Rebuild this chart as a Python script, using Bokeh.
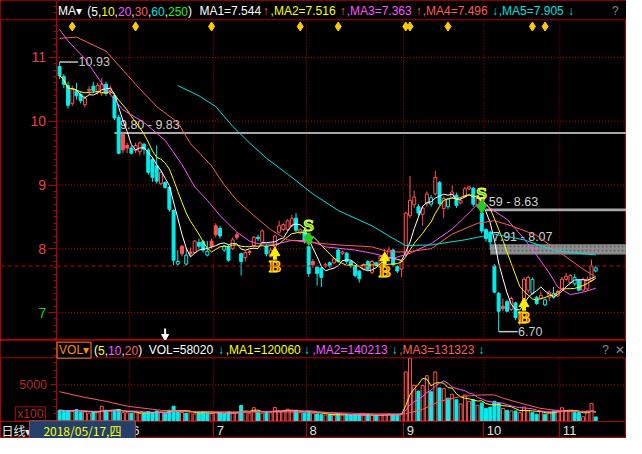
import numpy as np
import pandas as pd
from bokeh.plotting import figure
from bokeh.layouts import column
from bokeh.models import (ColumnDataSource, FixedTicker, Span, Label, LinearAxis,
                          BoxAnnotation, Grid, Range1d)
from bokeh.core.properties import value
from bokeh.embed import file_html
from bokeh.resources import INLINE

# ------------------------------------------------------------------ data
opens = [10.86, 10.70, 10.56, 10.28, 10.48, 10.42, 10.26, 10.48, 10.55, 10.46,
         10.44, 10.58, 10.48, 10.40, 10.06, 9.80, 9.62, 9.58, 9.54, 9.52,
         9.64, 9.55, 9.40, 9.30, 9.02, 9.04, 8.96, 8.60, 7.76, 8.04,
         7.76, 7.95, 7.94, 8.10, 8.11, 7.90, 8.12, 8.36, 8.32, 7.98,
         8.03, 8.00, 8.22, 7.92, 7.86, 7.96, 8.04, 8.18, 8.10, 8.04,
         7.88, 8.03, 8.26, 8.30, 8.30, 8.36, 8.48, 8.25, 8.29, 8.03,
         7.80, 7.71, 7.70, 7.73, 7.78, 7.78, 7.98, 7.93, 7.93, 7.80,
         7.73, 7.65, 7.68, 7.80, 7.63, 7.78, 7.73, 7.86, 7.85, 7.98,
         7.72, 7.68, 7.91, 8.52, 8.69, 8.66, 8.54, 8.71, 8.70, 8.86,
         9.04, 8.63, 8.66, 8.80, 8.84, 8.72, 8.82, 8.94, 8.95, 8.67,
         8.56, 8.30, 8.26, 7.73, 7.30, 7.10, 7.17, 7.05, 7.15, 6.88,
         7.08, 7.35, 7.30, 7.24, 7.22, 7.12, 7.24, 7.24, 7.26, 7.37,
         7.52, 7.47, 7.45, 7.50, 7.35, 7.37, 7.50, 7.65]
highs = [10.93, 10.74, 10.62, 10.56, 10.60, 10.47, 10.40, 10.55, 10.62, 10.60,
         10.68, 10.62, 10.56, 10.42, 10.10, 9.84, 9.66, 9.62, 9.66, 9.68,
         9.66, 9.58, 9.44, 9.62, 9.24, 9.06, 8.98, 8.62, 7.98, 8.06,
         8.00, 8.02, 8.14, 8.16, 8.14, 8.12, 8.16, 8.40, 8.36, 8.06,
         8.06, 8.18, 8.26, 7.94, 7.96, 7.98, 8.20, 8.22, 8.30, 8.07,
         8.02, 8.22, 8.44, 8.40, 8.46, 8.53, 8.56, 8.32, 8.30, 8.05,
         7.84, 7.73, 7.72, 7.78, 7.80, 7.86, 8.00, 7.97, 7.95, 7.82,
         7.75, 7.66, 7.77, 7.82, 7.82, 7.80, 7.90, 8.00, 8.03, 8.00,
         7.74, 7.82, 8.58, 9.14, 8.91, 8.70, 8.68, 8.90, 8.84, 9.22,
         9.06, 8.82, 8.80, 8.99, 8.88, 8.80, 8.97, 8.99, 8.97, 8.82,
         8.62, 8.32, 8.28, 7.76, 7.32, 7.22, 7.20, 7.25, 7.17, 7.02,
         7.55, 7.58, 7.55, 7.26, 7.33, 7.22, 7.35, 7.40, 7.36, 7.56,
         7.62, 7.60, 7.60, 7.52, 7.55, 7.56, 7.83, 7.73]
lows = [10.66, 10.52, 10.20, 10.24, 10.34, 10.28, 10.22, 10.42, 10.44, 10.42,
        10.40, 10.40, 10.42, 10.02, 9.48, 9.50, 9.50, 9.48, 9.50, 9.46,
        9.48, 9.16, 9.05, 9.02, 9.00, 8.94, 8.58, 7.74, 7.74, 7.88,
        7.74, 7.88, 7.92, 8.00, 7.94, 7.88, 8.00, 8.18, 8.16, 7.95,
        7.80, 7.98, 8.14, 7.58, 7.80, 7.90, 8.02, 8.12, 8.06, 7.88,
        7.86, 8.00, 8.24, 8.28, 8.28, 8.34, 8.26, 8.22, 8.08, 7.56,
        7.70, 7.42, 7.40, 7.70, 7.70, 7.76, 7.78, 7.90, 7.76, 7.70,
        7.55, 7.47, 7.66, 7.66, 7.60, 7.72, 7.70, 7.84, 7.83, 7.72,
        7.62, 7.56, 7.88, 8.48, 8.64, 8.52, 8.36, 8.66, 8.66, 8.84,
        8.68, 8.48, 8.62, 8.78, 8.64, 8.70, 8.80, 8.92, 8.66, 8.64,
        8.24, 8.11, 7.98, 7.30, 6.70, 7.02, 7.00, 7.02, 6.88, 6.80,
        7.06, 7.30, 7.28, 7.12, 7.20, 7.10, 7.18, 7.22, 7.24, 7.35,
        7.50, 7.45, 7.42, 7.33, 7.33, 7.35, 7.48, 7.63]
closes = [10.72, 10.58, 10.25, 10.50, 10.40, 10.32, 10.36, 10.50, 10.48, 10.56,
          10.58, 10.44, 10.52, 10.05, 9.50, 9.55, 9.58, 9.50, 9.62, 9.66,
          9.56, 9.20, 9.12, 9.06, 9.20, 8.96, 8.62, 7.82, 7.80, 7.92,
          7.90, 7.92, 8.12, 8.04, 7.98, 7.96, 8.04, 8.22, 8.20, 8.04,
          7.82, 8.14, 8.18, 7.80, 7.94, 7.94, 8.18, 8.16, 8.28, 7.92,
          7.98, 8.20, 8.36, 8.38, 8.44, 8.47, 8.29, 8.30, 8.11, 7.61,
          7.75, 7.61, 7.55, 7.75, 7.73, 7.84, 7.80, 7.95, 7.80, 7.73,
          7.58, 7.53, 7.75, 7.68, 7.80, 7.75, 7.88, 7.90, 7.98, 7.75,
          7.65, 7.80, 8.56, 8.76, 8.81, 8.56, 8.64, 8.86, 8.80, 9.12,
          8.71, 8.79, 8.78, 8.89, 8.68, 8.76, 8.94, 8.97, 8.70, 8.79,
          8.28, 8.16, 8.11, 7.32, 7.02, 7.06, 7.02, 7.22, 6.92, 6.98,
          7.52, 7.55, 7.52, 7.14, 7.27, 7.20, 7.32, 7.30, 7.33, 7.52,
          7.57, 7.58, 7.55, 7.35, 7.52, 7.52, 7.73, 7.70]
volumes = [1500, 1450, 1400, 1350, 1600, 1250, 1300, 1100, 1250, 1300,
           2050, 1500, 1350, 1450, 1600, 1200, 1150, 1100, 1250, 1050,
           1100, 1300, 1150, 1400, 1250, 1100, 1500, 2050, 1350, 1200,
           1100, 1250, 1000, 1150, 1300, 1100, 1050, 1200, 1150, 1000,
           1300, 1100, 1150, 2150, 1250, 1100, 1850, 1200, 1100, 1300,
           1150, 1900, 1300, 1400, 1650, 1300, 1500, 1200, 1150, 1400,
           1100, 1000, 900, 850, 950, 800, 1000, 850, 900, 800,
           950, 850, 800, 900, 750, 800, 850, 900, 1000, 950,
           900, 1000, 6750, 8640, 4900, 4120, 4900, 6230, 4040, 6750,
           4560, 4470, 3160, 3680, 2940, 2370, 3600, 2720, 2940, 2190,
           2500, 1750, 1930, 2720, 2500, 1750, 1490, 1400, 1400, 1180,
           1930, 1400, 1180, 960, 1320, 960, 1180, 1400, 1490, 1840,
           1400, 1400, 1180, 1180, 610, 1400, 2410, 580]

# longer moving averages (their history starts before the visible window)
ma20_idx = [0, 2, 6, 11, 15, 20, 25, 29, 32, 35, 38, 42, 45, 47, 51, 55, 59, 63, 70, 74,
            79, 83, 88, 93, 96, 99, 101, 106, 110, 113, 116, 118, 121, 124, 127]
ma20_val = [11.44, 11.26, 10.98, 10.50, 10.18, 9.98, 9.70, 9.32, 8.97, 8.76, 8.52, 8.26, 8.12,
            8.08, 8.07, 8.13, 8.13, 8.03, 7.98, 7.93, 7.85, 7.93, 8.08, 8.31, 8.50, 8.70, 8.68,
            8.46, 8.16, 7.90, 7.62, 7.40, 7.28, 7.32, 7.38]
ma30_idx = [0, 4, 11, 18, 23, 28, 31, 36, 39, 42, 46, 50, 54, 59, 66, 74, 78, 82, 88, 93,
            99, 103, 107, 113, 119, 124, 127]
ma30_val = [11.30, 11.32, 11.10, 10.58, 10.23, 9.98, 9.65, 9.30, 9.00, 8.76, 8.52, 8.30, 8.14,
            8.10, 8.06, 8.03, 7.95, 7.95, 8.00, 8.23, 8.40, 8.44, 8.36, 8.21, 7.92, 7.68, 7.56]
ma60_idx = [28, 33, 37, 41, 45, 49, 55, 60, 66, 74, 78, 82, 88, 96, 99, 103, 110, 117, 124, 127]
ma60_val = [10.56, 10.40, 10.23, 9.92, 9.66, 9.42, 9.12, 8.86, 8.60, 8.36, 8.20, 8.05, 8.06,
            8.14, 8.18, 8.23, 8.14, 7.98, 7.92, 7.905]
vma20_idx = [0, 5, 11, 16, 24, 33, 45, 60, 75, 82, 86, 90, 95, 100, 103, 105, 109, 114, 119, 127]
vma20_val = [4040, 3380, 2720, 2060, 1490, 1300, 1270, 1250, 1000, 1000, 1620, 2720, 3380,
             3600, 3600, 3160, 2500, 1750, 1400, 1313]

month_starts = [16.5, 36.5, 58.5, 81.5, 100.5, 118.5]
month_labels = ["6", "7", "8", "9", "10", "11"]
price_ticks = [7, 8, 9, 10, 11]
event_idx = [3, 18, 36, 57, 66, 82, 83, 92, 112, 115]
buy_idx = [51, 77, 110]
buy_price = [8.00, 7.92, 7.20]
sell_idx = [59, 100]
sell_price = [8.08, 8.58]
high_idx, high_val = 0, 10.93
low_idx, low_val = 104, 6.70
zone_lo = [9.80, 8.59, 7.91]
zone_hi = [9.83, 8.63, 8.07]
zone_start = [13, 101, 102]
ref_price = 7.73
ma_periods = ["5", "10", "20", "30", "60", "250"]
ma_last = [7.544, 7.516, 7.363, 7.496, 7.905]
ma_up = [True, True, True, False, False]
vol_periods = ["5", "10", "20"]
vol_last = 58020
vol_ma_last = [120060, 140213, 131323]
vol_tick = 5000
cursor_idx = 25
cursor_date = "2018/05/17,四"

# ------------------------------------------------------------------ styling / layout
BG = "#000000"
AX = "#b40000"
GRID = "#c00000"
GDASH = "1 2"
RED = "#ff5252"
CYAN = "#00eeee"
WHITE = "#ffffff"
YELLOW = "#ffff00"
MAGENTA = "#ff55ff"
SALMON = "#ff5c5c"
CYAN_MA = "#00e0e0"
FONT = "Liberation Sans"

W = 626
H1, H2 = 340, 98
SCX, SCY = 0.975, 0.965          # this page vs. the 642x454 screenshot
PXI = 4.33 * SCX                 # pixels per trading day
X0 = 60.6 * SCX                  # pixel of the first candle
AXIS_I = (57 * SCX - X0) / PXI   # index where the price axis sits
XR = Range1d(-X0 / PXI, (W - X0) / PXI)

YBOT, YTOP = 6.561, 11.894
PPP = H1 / (YTOP - YBOT)
TITLE_Y = YTOP - 20 * SCY / PPP
VPX = 38 * SCY / 5000            # pixels per volume unit
VTOP = 84 * SCY / VPX
VBOT = -18 * SCY / VPX
VTITLE = 66 * SCY / VPX


def sx(rx):
    return rx * SCX


n = len(closes)
idx = list(range(n))
df = pd.DataFrame(dict(i=idx, o=opens, h=highs, l=lows, c=closes, v=volumes))
prev = df.c.shift(1).fillna(df.o)
up = df.c >= prev
df["col"] = np.where(up, RED, CYAN)
df["fill"] = np.where(df.c > df.o, BG, df["col"])
df["vfill"] = np.where(up, BG, CYAN)
df["top"] = np.maximum(df.o, df.c)
df["bot"] = np.minimum(df.o, df.c)
src = ColumnDataSource(df)

ma5 = df.c.rolling(5, min_periods=1).mean()
ma10 = df.c.rolling(10, min_periods=1).mean()
vma5 = df.v.rolling(5, min_periods=1).mean()
vma10 = df.v.rolling(10, min_periods=1).mean()

EM = {'(': .333, ')': .333, ',': .278, '.': .278, '=': .584, 'M': .833, 'A': .667,
      'V': .667, 'O': .778, 'L': .556}


def adv(s, size=12):
    return sum(EM.get(ch, .556) for ch in s) * size


def lab(fig, x, y, text, color, size="12px", align="left", font=FONT, **kw):
    fig.add_layout(Label(x=x, y=y, x_units="screen", y_units="screen", text=text,
                         text_color=color, text_font_size=size, text_align=align,
                         text_baseline="middle", text_font=font, **kw))


def style_axis(ax, tick_out, minor_out=3):
    ax.axis_line_color = AX
    ax.major_tick_line_color = AX
    ax.minor_tick_line_color = AX
    ax.major_tick_out = tick_out
    ax.major_tick_in = 0
    ax.minor_tick_out = minor_out
    ax.minor_tick_in = 0


# ------------------------------------------------------------------ price panel
p = figure(width=W, height=H1, title=None, x_range=XR, y_range=Range1d(YBOT, YTOP),
           output_backend="svg", toolbar_location=None, x_axis_location=None,
           y_axis_location=None, min_border=0,
           background_fill_color=BG, border_fill_color=BG, outline_line_color=AX)
p.xgrid.visible = False
p.ygrid.visible = False

ya = LinearAxis(fixed_location=AXIS_I,
                ticker=FixedTicker(ticks=price_ticks,
                                   minor_ticks=[round(v, 2) for v in np.arange(6.6, 11.9, 0.1)]))
style_axis(ya, 8)
ya.major_label_text_color = "#e84040"
ya.major_label_text_font = FONT
ya.major_label_text_font_size = "14px"
ya.major_label_standoff = 2
ya.major_label_overrides = {7: ""}
p.add_layout(ya, "left")

# dotted grid: month boundaries and whole prices
for gx in [AXIS_I + 0.25] + month_starts:
    p.add_layout(Span(location=gx, dimension="height", line_color=GRID, line_dash=GDASH,
                      line_width=1, level="underlay"))
p.segment(x0=[AXIS_I] * 5, y0=price_ticks, x1=[XR.end] * 5, y1=price_ticks,
          line_color=GRID, line_dash=GDASH, line_width=1)
p.add_layout(Span(location=ref_price, dimension="width", line_color="#d00000",
                  line_dash="4 3", line_width=1))

# support / resistance zones
right_edge = [XR.end] * len(zone_lo)
p.quad(left=zone_start[:2], right=right_edge[:2], bottom=zone_lo[:2], top=zone_hi[:2],
       fill_color="#a8a8a8", line_color=None)
p.quad(left=zone_start[2:], right=right_edge[2:], bottom=zone_lo[2:], top=zone_hi[2:],
       fill_color="#8e8e8e", line_color=None, hatch_pattern=".", hatch_color="#606060",
       hatch_scale=4)
zone_text = [f"{a:.2f} - {b:.2f}" for a, b in zip(zone_lo, zone_hi)]
p.text(x=[14.3, 99.2, 102.6], y=zone_hi, text=zone_text, text_font=value(FONT),
       text_font_size="12.5px", text_color="#d0d0d0", text_baseline="bottom", text_align="left")

# candles
p.segment(x0="i", y0="l", x1="i", y1="h", source=src, line_color="col", line_width=1)
p.vbar(x="i", width=0.7, top="top", bottom="bot", source=src, fill_color="fill",
       line_color="col", line_width=1)

# moving averages
p.line(idx, ma5, line_color=WHITE, line_width=1)
p.line(idx, ma10, line_color=YELLOW, line_width=1)
p.line(ma20_idx, ma20_val, line_color=MAGENTA, line_width=1)
p.line(ma30_idx, ma30_val, line_color=SALMON, line_width=1)
p.line(ma60_idx, ma60_val, line_color=CYAN_MA, line_width=1)

# high / low marks
p.segment(x0=[high_idx], y0=[high_val], x1=[high_idx + 4.4], y1=[high_val],
          line_color="#c0c0c0", line_width=1.5)
p.text(x=[high_idx + 4.5], y=[high_val], text=[f"{high_val:.2f}"], text_font=value(FONT),
       text_font_size="12.5px", text_color="#c8c8c8", text_baseline="middle")
p.segment(x0=[low_idx], y0=[low_val], x1=[low_idx + 4.5], y1=[low_val],
          line_color="#c0c8d0", line_width=1.5)
p.text(x=[low_idx + 4.6], y=[low_val], text=[f"{low_val:.2f}"], text_font=value(FONT),
       text_font_size="12.5px", text_color="#c8c8c8", text_baseline="middle")

# buy signals
bp = np.array(buy_price)
p.segment(x0=buy_idx, y0=bp - 6 / PPP, x1=buy_idx, y1=bp - 11 / PPP,
          line_color="#ffee00", line_width=4)
p.scatter(x=buy_idx, y=bp - 4 / PPP, marker="triangle", size=10,
          fill_color="#ffee00", line_color="#ffee00")
p.text(x=buy_idx, y=bp - 18 / PPP, text=["B"] * len(buy_idx), text_font=value("DejaVu Serif"),
       text_font_style="bold", text_font_size="15px", text_color="#ff3a1a",
       text_outline_color="#ffee00", text_align="center", text_baseline="middle")
# sell signals
spp = np.array(sell_price)
p.segment(x0=sell_idx, y0=spp + 6 / PPP, x1=sell_idx, y1=spp + 11 / PPP,
          line_color="#22cc22", line_width=4)
p.scatter(x=sell_idx, y=spp + 4 / PPP, marker="inverted_triangle", size=10,
          fill_color="#22cc22", line_color="#22cc22")
p.text(x=sell_idx, y=spp + 18 / PPP, text=["S"] * len(sell_idx), text_font=value("DejaVu Serif"),
       text_font_style="bold", text_font_size="15px", text_color="#33dd33",
       text_outline_color="#eeff44", text_align="center", text_baseline="middle")

# event diamonds
p.scatter(x=event_idx, y=[YTOP - 26 / PPP] * len(event_idx), marker="diamond", size=9,
          fill_color="#ffcc00", line_color="#ffcc00")

# cursor arrow
p.segment(x0=[cursor_idx], y0=[YBOT + 6 / PPP], x1=[cursor_idx], y1=[YBOT + 12 / PPP],
          line_color=WHITE, line_width=2)
p.scatter(x=[cursor_idx], y=[YBOT + 4 / PPP], marker="inverted_triangle", size=7,
          fill_color=WHITE, line_color=WHITE)

# title bar
p.add_layout(BoxAnnotation(bottom=TITLE_Y, fill_color=BG, fill_alpha=1, line_color=None,
                           level="underlay"))
p.add_layout(Span(location=TITLE_Y, dimension="width", line_color=AX, line_width=1))

ty1 = H1 - 11 * SCY
lab(p, sx(59), ty1, "MA▾", WHITE)
ma_cols = [WHITE, YELLOW, MAGENTA, SALMON, CYAN_MA, "#22ee22"]
toks = [("(", WHITE)]
for k, (per, col) in enumerate(zip(ma_periods, ma_cols)):
    toks.append((per, col))
    toks.append(("," if k < len(ma_periods) - 1 else ")", WHITE))
x = sx(89)
for t, c in toks:
    lab(p, x, ty1, t, c)
    x += adv(t)
ma_txt_x = [204, 277, 355, 433, 511]
arr_x = [269, 348, 426, 504, 582]
for k in range(5):
    t = ("" if k == 0 else ",") + f"MA{k + 1}={ma_last[k]:.3f}"
    lab(p, sx(ma_txt_x[k]), ty1, t, ma_cols[k])
    lab(p, sx(arr_x[k]), ty1, "↑" if ma_up[k] else "↓", SALMON if ma_up[k] else CYAN_MA)
lab(p, sx(634), ty1, "?", "#8a8a8a", align="right")
p.add_layout(Label(x=sx(47), y=7, x_units="screen", y_units="data", text="7",
                   text_color="#22cc22", text_font_size="14px", text_align="right",
                   text_baseline="middle", text_font=FONT))

# ------------------------------------------------------------------ volume panel
p2 = figure(width=W, height=H2, title=None, x_range=XR, y_range=Range1d(VBOT, VTOP),
            output_backend="svg", toolbar_location=None, x_axis_location=None,
            y_axis_location=None, min_border=0,
            background_fill_color=BG, border_fill_color=BG, outline_line_color=AX)
p2.xgrid.visible = False
p2.ygrid.visible = False

xa = LinearAxis(fixed_location=0, ticker=FixedTicker(ticks=month_starts))
style_axis(xa, 17)
xa.minor_tick_line_color = None
xa.major_label_text_font_size = "0px"
xa.major_label_standoff = 0
xa.major_label_overrides = {m: "" for m in month_starts}
p2.add_layout(xa, "below")

ya2 = LinearAxis(fixed_location=AXIS_I, bounds=(0, VTOP),
                 ticker=FixedTicker(ticks=[vol_tick], minor_ticks=list(range(1000, 11001, 1000))))
style_axis(ya2, 6)
ya2.major_label_text_color = "#b42828"
ya2.major_label_text_font = FONT
ya2.major_label_text_font_size = "12.5px"
ya2.major_label_standoff = 3
p2.add_layout(ya2, "left")

for gx in month_starts:
    p2.add_layout(Span(location=gx, dimension="height", line_color=GRID, line_dash=GDASH,
                       line_width=1, level="underlay"))
p2.segment(x0=[AXIS_I], y0=[vol_tick], x1=[XR.end], y1=[vol_tick], line_color=GRID,
           line_dash=GDASH, line_width=1)

p2.vbar(x="i", top="v", bottom=0, width=0.7, source=src, fill_color="vfill",
        line_color="col", line_width=1)
p2.line(idx, vma5, line_color=YELLOW, line_width=1)
p2.line(idx, vma10, line_color=MAGENTA, line_width=1)
p2.line(vma20_idx, vma20_val, line_color=SALMON, line_width=1)

p2.add_layout(BoxAnnotation(bottom=VTITLE, fill_color=BG, fill_alpha=1, line_color=None,
                            level="underlay"))
p2.add_layout(Span(location=VTITLE, dimension="width", line_color=AX, line_width=1))


def vy(ry):
    return H2 - (ry - 352) * SCY


ty2 = vy(362)
p2.add_layout(Label(x=sx(58), y=ty2, x_units="screen", y_units="screen", text="VOL▾",
                    text_color="#ff8c1a", text_font_size="12px", text_baseline="middle",
                    text_font=FONT, border_line_color="#ff8c1a", background_fill_color=BG,
                    padding=(2, 1)))
vcols = [YELLOW, MAGENTA, SALMON]
vt = [("(", WHITE)]
for k, (per, col) in enumerate(zip(vol_periods, vcols)):
    vt.append((per, col))
    vt.append(("," if k < len(vol_periods) - 1 else ")", WHITE))
x = sx(96)
for t, c in vt:
    lab(p2, x, ty2, t, c)
    x += adv(t)
lab(p2, sx(152), ty2, f"VOL={vol_last}", WHITE)
lab(p2, sx(223), ty2, "↓", CYAN_MA)
vx = [231, 320, 409]
vax = [311, 401, 490]
for k in range(3):
    lab(p2, sx(vx[k]), ty2, f",MA{k + 1}={vol_ma_last[k]}", vcols[k])
    lab(p2, sx(vax[k]), ty2, "↓", CYAN_MA)
lab(p2, sx(624), ty2, "?", "#8a8a8a", align="right")
lab(p2, sx(640), ty2, "✕", "#8a8a8a", align="right")

lab(p2, sx(46), vy(428), "x100", "#b42828", align="right",
    border_line_color="#a01010", background_fill_color=BG, padding=(2, 0))

# bottom date bar
for m, t in zip(month_starts, month_labels):
    p2.add_layout(Label(x=m, y=vy(445), x_units="data", y_units="screen", x_offset=3, text=t,
                        text_color="#e0e0e0", text_font_size="13px", text_baseline="middle",
                        text_align="left", text_font=FONT))
lab(p2, sx(1), vy(445), "日线▾", "#e8e8e8", font="Noto Sans CJK SC")
lab(p2, sx(84), vy(445), cursor_date, "#ffff00", align="center", font="Noto Sans CJK SC",
    background_fill_color="#23406c", border_line_color="#b04848", padding=(14, 1))

layout = column(p, p2, spacing=0)
open("out.html", "w").write(file_html(layout, INLINE))
